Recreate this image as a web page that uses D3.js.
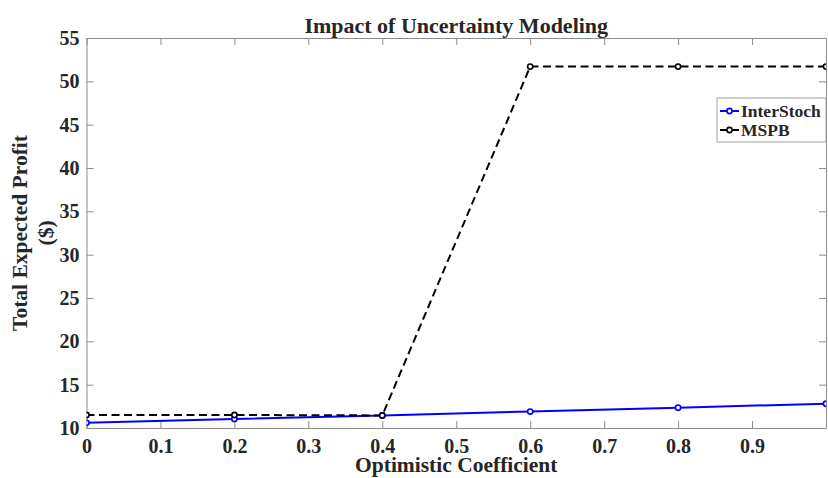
<!DOCTYPE html>
<html>
<head>
<meta charset="utf-8">
<script src="https://cdn.jsdelivr.net/npm/d3@7"></script>
<style>
  body { margin: 0; background: #fff; }
  svg text { font-family: "Liberation Serif", "Times New Roman", serif; font-weight: bold; fill: #262626; }
</style>
</head>
<body>
<div id="chart"></div>
<script>
// optimistic coefficient values
const coefficients = [0, 0.2, 0.4, 0.6, 0.8, 1.0];
const interStoch = [10.6, 11.05, 11.45, 11.9, 12.35, 12.8];
const mspb = [11.5, 11.5, 11.45, 51.7, 51.7, 51.7];
const xTicks = [0, 0.1, 0.2, 0.3, 0.4, 0.5, 0.6, 0.7, 0.8, 0.9];
const yTicks = [10, 15, 20, 25, 30, 35, 40, 45, 50, 55];

const width = 828, height = 478;
const margin = { top: 38, right: 2, bottom: 50, left: 86.5 };

const svg = d3.select('#chart').append('svg')
    .attr('width', width)
    .attr('height', height);

const x = d3.scaleLinear().domain([0, 1]).range([margin.left, width - margin.right]);
const y = d3.scaleLinear().domain([10, 55]).range([height - margin.bottom, margin.top]);

svg.append('clipPath').attr('id', 'plot-clip')
  .append('rect')
    .attr('x', x(0)).attr('y', y(55))
    .attr('width', x(1) - x(0)).attr('height', y(10) - y(55));

// Axes, MATLAB style with inward ticks
const axisColor = '#8c8c8c';
const tickLen = 7;

const bottomAxis = svg.append('g')
    .attr('transform', `translate(0,${y(10)})`)
    .call(d3.axisBottom(x).tickValues(xTicks).tickFormat(d3.format('')).tickSizeInner(-tickLen).tickSizeOuter(0).tickPadding(12));
const topAxis = svg.append('g')
    .attr('transform', `translate(0,${y(55)})`)
    .call(d3.axisTop(x).tickValues(xTicks).tickFormat('').tickSizeInner(-tickLen).tickSizeOuter(0));
const leftAxis = svg.append('g')
    .attr('transform', `translate(${x(0)},0)`)
    .call(d3.axisLeft(y).tickValues(yTicks).tickSizeInner(-tickLen).tickSizeOuter(0).tickPadding(7));
const rightAxis = svg.append('g')
    .attr('transform', `translate(${x(1)},0)`)
    .call(d3.axisRight(y).tickValues(yTicks).tickFormat('').tickSizeInner(-tickLen).tickSizeOuter(0));

[bottomAxis, topAxis, leftAxis, rightAxis].forEach(g => {
    g.select('.domain').attr('stroke', axisColor);
    g.selectAll('.tick line').attr('stroke', axisColor);
    g.selectAll('.tick text')
        .style('font-size', '20px')
        .style('font-family', '"Liberation Serif", serif')
        .attr('fill', '#262626');
});
bottomAxis.selectAll('.tick text').attr('dy', '0.66em');

// Lines
const plot = svg.append('g').attr('clip-path', 'url(#plot-clip)');

const series = [
    { name: 'InterStoch', values: interStoch, color: '#0000ff', dash: null },
    { name: 'MSPB', values: mspb, color: '#000000', dash: '8,4.5' }
];

const line = d3.line()
    .x(d => x(d[0]))
    .y(d => y(d[1]));

series.forEach(s => {
    const pts = coefficients.map((c, i) => [c, s.values[i]]);
    plot.append('path')
        .datum(pts)
        .attr('fill', 'none')
        .attr('stroke', s.color)
        .attr('stroke-width', 2)
        .attr('stroke-dasharray', s.dash);
    plot.selectAll(null)
        .data(pts)
        .enter()
      .append('circle')
        .attr('cx', d => x(d[0]))
        .attr('cy', d => y(d[1]))
        .attr('r', 2.6)
        .attr('fill', '#fff')
        .attr('stroke', s.color)
        .attr('stroke-width', 1.6);
});
plot.selectAll('path').attr('d', line);

// Title and labels
svg.append('text')
    .attr('x', (x(0) + x(1)) / 2)
    .attr('y', 33)
    .attr('text-anchor', 'middle')
    .style('font-size', '22px')
    .attr('fill', '#000')
    .text('Impact of Uncertainty Modeling');

svg.append('text')
    .attr('x', (x(0) + x(1)) / 2)
    .attr('y', 472)
    .attr('text-anchor', 'middle')
    .style('font-size', '21.5px')
    .text('Optimistic Coefficient');

const yLabel = svg.append('text')
    .attr('transform', `translate(27,${(y(10) + y(55)) / 2}) rotate(-90)`)
    .attr('text-anchor', 'middle')
    .style('font-size', '21.5px');
yLabel.append('tspan').attr('x', 0).attr('dy', 0).text('Total Expected Profit');
yLabel.append('tspan').attr('x', 0).attr('dy', 26).text('($)');

// Legend
const legend = svg.append('g').attr('transform', 'translate(717,98)');
legend.append('rect')
    .attr('width', 109).attr('height', 44)
    .attr('fill', '#fff')
    .attr('stroke', '#a0a0a0')
    .attr('stroke-width', 1);

series.forEach((s, i) => {
    const ly = 13 + i * 19;
    legend.append('line')
        .attr('x1', 3).attr('x2', 22)
        .attr('y1', ly).attr('y2', ly)
        .attr('stroke', s.color)
        .attr('stroke-width', 2);
    legend.append('circle')
        .attr('cx', 12.5).attr('cy', ly).attr('r', 2.6)
        .attr('fill', '#fff')
        .attr('stroke', s.color)
        .attr('stroke-width', 1.6);
    legend.append('text')
        .attr('x', 24).attr('y', ly)
        .attr('dy', '0.35em')
        .style('font-size', '17.5px')
        .attr('fill', '#000')
        .text(s.name);
});
</script>
</body>
</html>
